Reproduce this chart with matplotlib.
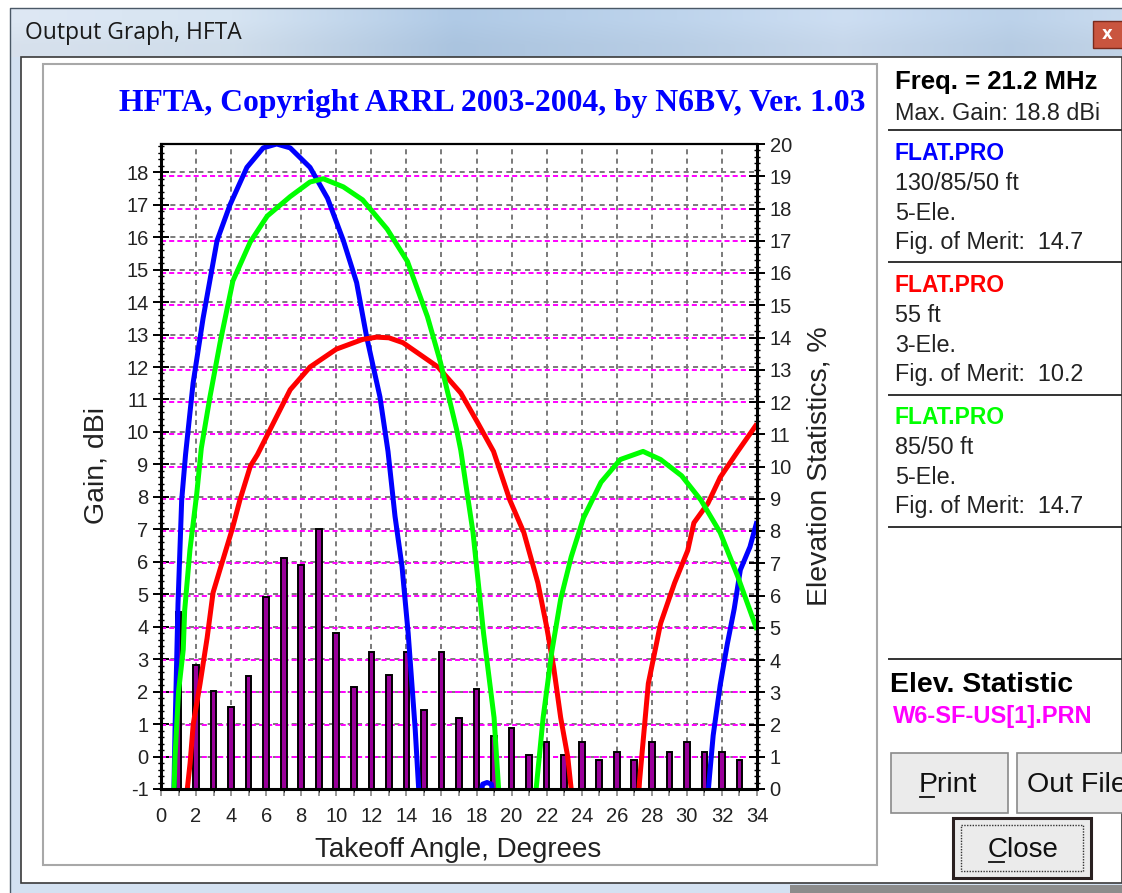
import matplotlib
matplotlib.use("Agg")
import matplotlib.pyplot as plt
import numpy as np
from matplotlib.patches import Rectangle
from matplotlib.ticker import MultipleLocator

plt.rcParams["axes.unicode_minus"] = False

# gain curves, dBi vs takeoff angle (deg); values below -1 are clipped by the axes
blue_x = [0.72, 0.8, 0.97, 1.18, 1.4, 1.83, 2.4, 3.2, 3.94, 4.9, 5.83, 6.6, 7.37, 8.5, 9.5,
          10.4, 11.16, 11.73, 12.49, 12.95, 13.35, 13.75, 14.1, 14.5, 14.7, 14.85,
          18.15, 18.35, 18.6, 18.85, 19.0,
          31.15, 31.3, 31.5, 31.9, 32.3, 32.7, 33.05, 33.6, 34.0]
blue_y = [-1.5, 0.8, 4.7, 7.9, 9.3, 11.5, 13.5, 15.9, 17.0, 18.15, 18.75, 18.87, 18.75, 18.15, 17.2,
          15.9, 14.6, 12.93, 11.08, 9.4, 7.4, 5.85, 3.8, 0.85, -1.0, -2.5,
          -1.5, -0.85, -0.8, -0.85, -1.5,
          -1.5, -0.55, 0.65, 2.2, 3.45, 4.55, 5.75, 6.46, 7.25]

red_x = [1.4, 1.66, 1.84, 2.23, 2.63, 2.97, 3.47, 4.06, 4.5, 5.1, 5.5, 6.2, 7.37, 8.5, 10.0,
         11.5, 12.3, 13.0, 13.8, 15.8, 17.1, 18.05, 18.97, 19.9, 20.7, 21.5, 22.0, 22.4, 22.8,
         23.2, 23.4, 23.5,
         27.15, 27.3, 27.8, 28.5, 29.3, 30.05, 30.4, 31.2, 31.9, 32.9, 34.0]
red_y = [-1.5, -0.2, 1.0, 2.25, 3.65, 5.05, 5.95, 7.0, 7.9, 8.95, 9.3, 10.05, 11.3, 12.0, 12.55,
         12.85, 12.92, 12.9, 12.75, 12.0, 11.2, 10.3, 9.4, 7.9, 6.9, 5.35, 4.0, 2.75, 1.2,
         0.0, -1.0, -2.0,
         -2.0, -0.75, 2.25, 4.1, 5.35, 6.35, 7.2, 7.8, 8.6, 9.4, 10.25]

green_x = [0.72, 0.8, 1.0, 1.27, 1.35, 1.65, 2.04, 2.3, 2.8, 3.37, 4.1, 5.09, 6.06, 7.37, 8.5,
           9.26, 10.4, 11.5, 12.9, 14.06, 15.2, 15.94, 16.87, 17.1, 17.8, 18.4, 19.0, 19.26, 19.4,
           21.3, 21.4, 21.8, 22.3, 22.8, 23.4, 24.1, 25.1, 26.2, 27.5, 28.5, 29.7, 30.8,
           31.9, 32.9, 34.0]
green_y = [-1.5, 0.0, 2.0, 3.3, 4.5, 6.36, 8.1, 9.5, 11.1, 12.75, 14.65, 15.85, 16.65, 17.25, 17.7,
           17.8, 17.55, 17.15, 16.25, 15.25, 13.55, 12.15, 10.06, 9.44, 6.9, 3.8, 1.2, -1.0, -2.0,
           -2.0, -1.0, 1.2, 3.25, 4.85, 6.15, 7.35, 8.45, 9.15, 9.4, 9.15, 8.65, 7.9,
           6.9, 5.55, 3.9]

# elevation statistics, % of openings per degree
bar_angle = list(range(1, 34))
bar_pct = [5.5, 3.85, 3.05, 2.55, 3.5, 5.95, 7.15, 6.95, 8.05, 4.85, 3.15, 4.25, 3.55, 4.25,
           2.45, 4.25, 2.2, 3.1, 1.65, 1.9, 1.05, 1.45, 1.05, 1.45, 0.9, 1.15, 0.9, 1.45,
           1.15, 1.45, 1.15, 1.15, 0.9]

x_ticks = list(range(0, 35, 2))
gain_ticks = list(range(-1, 19))
pct_ticks = list(range(0, 21))

title = "HFTA, Copyright ARRL 2003-2004, by N6BV, Ver. 1.03"
side_blocks = [
    ("FLAT.PRO", "#0000ff", ["130/85/50 ft", "5-Ele.", "Fig. of Merit:  14.7"]),
    ("FLAT.PRO", "#ff0000", ["55 ft", "3-Ele.", "Fig. of Merit:  10.2"]),
    ("FLAT.PRO", "#00ff00", ["85/50 ft", "5-Ele.", "Fig. of Merit:  14.7"]),
]

W, H = 1122, 893
SANS = "Liberation Sans"
fig = plt.figure(figsize=(W / 100, H / 100), dpi=100)
fig.patch.set_facecolor("white")

# ---- window chrome, drawn in pixel coordinates ----
bg = fig.add_axes([0, 0, 1, 1])
bg.set_xlim(0, W)
bg.set_ylim(H, 0)
bg.axis("off")

xs = np.linspace(0, 1, 400)
stops = [0.0, 0.2, 0.4, 0.6, 0.75, 0.9, 1.0]
r = np.interp(xs, stops, [222, 214, 176, 190, 205, 188, 200])
g = np.interp(xs, stops, [232, 228, 202, 212, 222, 210, 218])
b = np.interp(xs, stops, [244, 242, 230, 236, 242, 234, 238])
grad = np.dstack([r, g, b])[0][None, :, :] / 255.0
grad = np.repeat(grad, 2, axis=0)
grad[1] = grad[1] * 0.97
bg.imshow(grad, extent=[10, W, 57, 8], aspect="auto", interpolation="bilinear", zorder=1)
bg.add_patch(Rectangle((10, 57), 11, H - 57, fc="#d3e1f1", ec="none", zorder=1))
bg.add_patch(Rectangle((10, 883), W - 10, 10, fc="#d3e1f1", ec="none", zorder=1))
bg.add_patch(Rectangle((790, 885), W - 790, 8, fc="#8c8c8c", ec="none", zorder=2))
bg.plot([10, 10, W], [H, 8, 8], color="#4a5866", lw=1.0, zorder=3)
bg.add_patch(Rectangle((21, 57), W - 21, 826, fc="white", ec="#3a3a3a", lw=1.2, zorder=2))
bg.add_patch(Rectangle((43, 64), 834, 801, fc="white", ec="#a8a8a8", lw=1.5, zorder=3))
bg.text(25, 33, "Output Graph, HFTA", fontsize=16.5, family="Open Sans", color="#1a1a1a",
        ha="left", va="center", zorder=4)
bg.add_patch(Rectangle((1093, 21), 40, 27, fc="#c9553f", ec="#7a2a1c", lw=1, zorder=4))
bg.text(1107, 34, "x", fontsize=12, color="white", weight="bold", ha="center", va="center",
        zorder=5)

bg.text(492, 104, title, fontsize=22.8, family="Liberation Serif", weight="bold",
        color="#0000ff", ha="center", va="center", zorder=4)

# right-hand info panel
tx = 895
bg.text(tx, 82, "Freq. = 21.2 MHz", fontsize=18.5, family=SANS, weight="bold", color="black",
        ha="left", va="center", zorder=4)
bg.text(tx, 113, "Max. Gain: 18.8 dBi", fontsize=16.8, family=SANS, color="#222222",
        ha="left", va="center", zorder=4)
for yl in [130, 262, 395, 527, 659]:
    bg.plot([889, W], [yl, yl], color="#333333", lw=1.4, zorder=4)
block_y = [153, 285, 417]
line_dy = [30, 60, 89]
for (name, col, lines), y0 in zip(side_blocks, block_y):
    bg.text(tx, y0, name, fontsize=16.5, family=SANS, weight="bold", color=col,
            ha="left", va="center", zorder=4)
    for s, dy in zip(lines, line_dy):
        bg.text(tx, y0 + dy, s, fontsize=16.8, family=SANS, color="#222222",
                ha="left", va="center", zorder=4)
bg.text(890, 685, "Elev. Statistic", fontsize=20.5, family=SANS, weight="bold", color="black",
        ha="left", va="center", zorder=4)
bg.text(893, 717, "W6-SF-US[1].PRN", fontsize=17, family=SANS, weight="bold",
        color="#ff00ff", ha="left", va="center", zorder=4)

# buttons
for x0, w in [(891, 117), (1017, 120)]:
    bg.add_patch(Rectangle((x0, 753), w, 60, fc="#ebebeb", ec="#8a8a8a", lw=1.2, zorder=4))
bg.text(919, 792, "Print", fontsize=20.5, family=SANS, color="#111111", ha="left",
        va="baseline", zorder=5)
bg.plot([920, 934], [797, 797], color="#111111", lw=1.3, zorder=5)
bg.text(1027, 792, "Out File", fontsize=20.5, family=SANS, color="#111111", ha="left",
        va="baseline", zorder=5)
bg.add_patch(Rectangle((953, 818), 138, 60, fc="#ebebeb", ec="#2a2020", lw=2.2, zorder=4))
bg.add_patch(Rectangle((961, 825), 122, 46, fc="none", ec="#333333", lw=1.0, ls=(0, (1, 1)),
                       zorder=5))
bg.text(988, 857, "Close", fontsize=20, family=SANS, color="#111111", ha="left",
        va="baseline", zorder=5)
bg.plot([989, 1004], [862, 862], color="#111111", lw=1.3, zorder=5)

# ---- plot axes ----
L, R, T, B = 161, 757, 144, 789
rect = [L / W, (H - B) / H, (R - L) / W, (B - T) / H]

ax = fig.add_axes(rect)
ax2 = ax.twinx()
top = fig.add_axes(rect, sharex=ax, sharey=ax)
ax.set_zorder(5)
ax2.set_zorder(6)
top.set_zorder(7)
ax2.patch.set_visible(False)
top.patch.set_visible(False)

ax.set_xlim(0, 34)
ax.set_ylim(-1, 18.87)
ax2.set_ylim(0, 20)

ax.set_xticks(x_ticks)
ax.xaxis.set_minor_locator(MultipleLocator(1))
ax.set_yticks(gain_ticks)
ax.yaxis.set_minor_locator(MultipleLocator(0.2))
ax2.set_yticks(pct_ticks)
ax2.yaxis.set_minor_locator(MultipleLocator(0.2))

ax.grid(True, axis="both", which="major", color="#7a7a7a", ls=(0, (2.6, 2.2)), lw=1.4)
ax2.grid(True, axis="y", which="major", color="#ff00ff", ls=(0, (2.6, 1.6)), lw=1.4)

ax.tick_params(axis="y", which="major", direction="inout", length=12, width=1.4,
               labelsize=14.5, pad=3, colors="black")
ax.tick_params(axis="y", which="minor", direction="inout", length=4.5, width=1.0)
ax.tick_params(axis="x", which="both", direction="out", length=5, width=1.3, color="#909090",
               labelsize=14.5, pad=8)
ax2.tick_params(axis="y", which="major", direction="inout", length=12, width=1.4,
                labelsize=14.5, pad=3)
ax2.tick_params(axis="y", which="minor", direction="inout", length=4.5, width=1.0)
for a in (ax, ax2):
    for lab in a.get_xticklabels() + a.get_yticklabels():
        lab.set_fontfamily(SANS)
        lab.set_color("#222222")

ax2.bar(bar_angle, bar_pct, width=0.32, color="#990099", edgecolor="black", lw=1.4, zorder=3)

top.plot(blue_x, blue_y, color="#0000ff", lw=3.6, solid_capstyle="butt")
top.plot(red_x, red_y, color="#ff0000", lw=3.6, solid_capstyle="butt")
top.plot(green_x, green_y, color="#00ff00", lw=3.6, solid_capstyle="butt")
top.tick_params(left=False, bottom=False, labelleft=False, labelbottom=False)

for a in (ax, ax2):
    for s in a.spines.values():
        s.set_visible(False)
for side, s in top.spines.items():
    s.set_color("black")
    s.set_linewidth(2.2 if side != "top" else 1.6)

ax.set_xlabel("Takeoff Angle, Degrees", fontsize=20, family=SANS, color="#222222",
              va="center")
ax.xaxis.set_label_coords((458 - L) / (R - L), -(850 - B) / (B - T))
ax.set_ylabel("Gain, dBi", fontsize=20.5, family=SANS, color="#222222", va="center")
ax.yaxis.set_label_coords((97 - L) / (R - L), (B - 466) / (B - T))
ax2.set_ylabel("Elevation Statistics, %", fontsize=20.5, family=SANS, color="#222222",
               va="center", rotation=90)
ax2.yaxis.set_label_coords((819 - L) / (R - L), (B - 466) / (B - T))

fig.savefig("out.png", dpi=100)
